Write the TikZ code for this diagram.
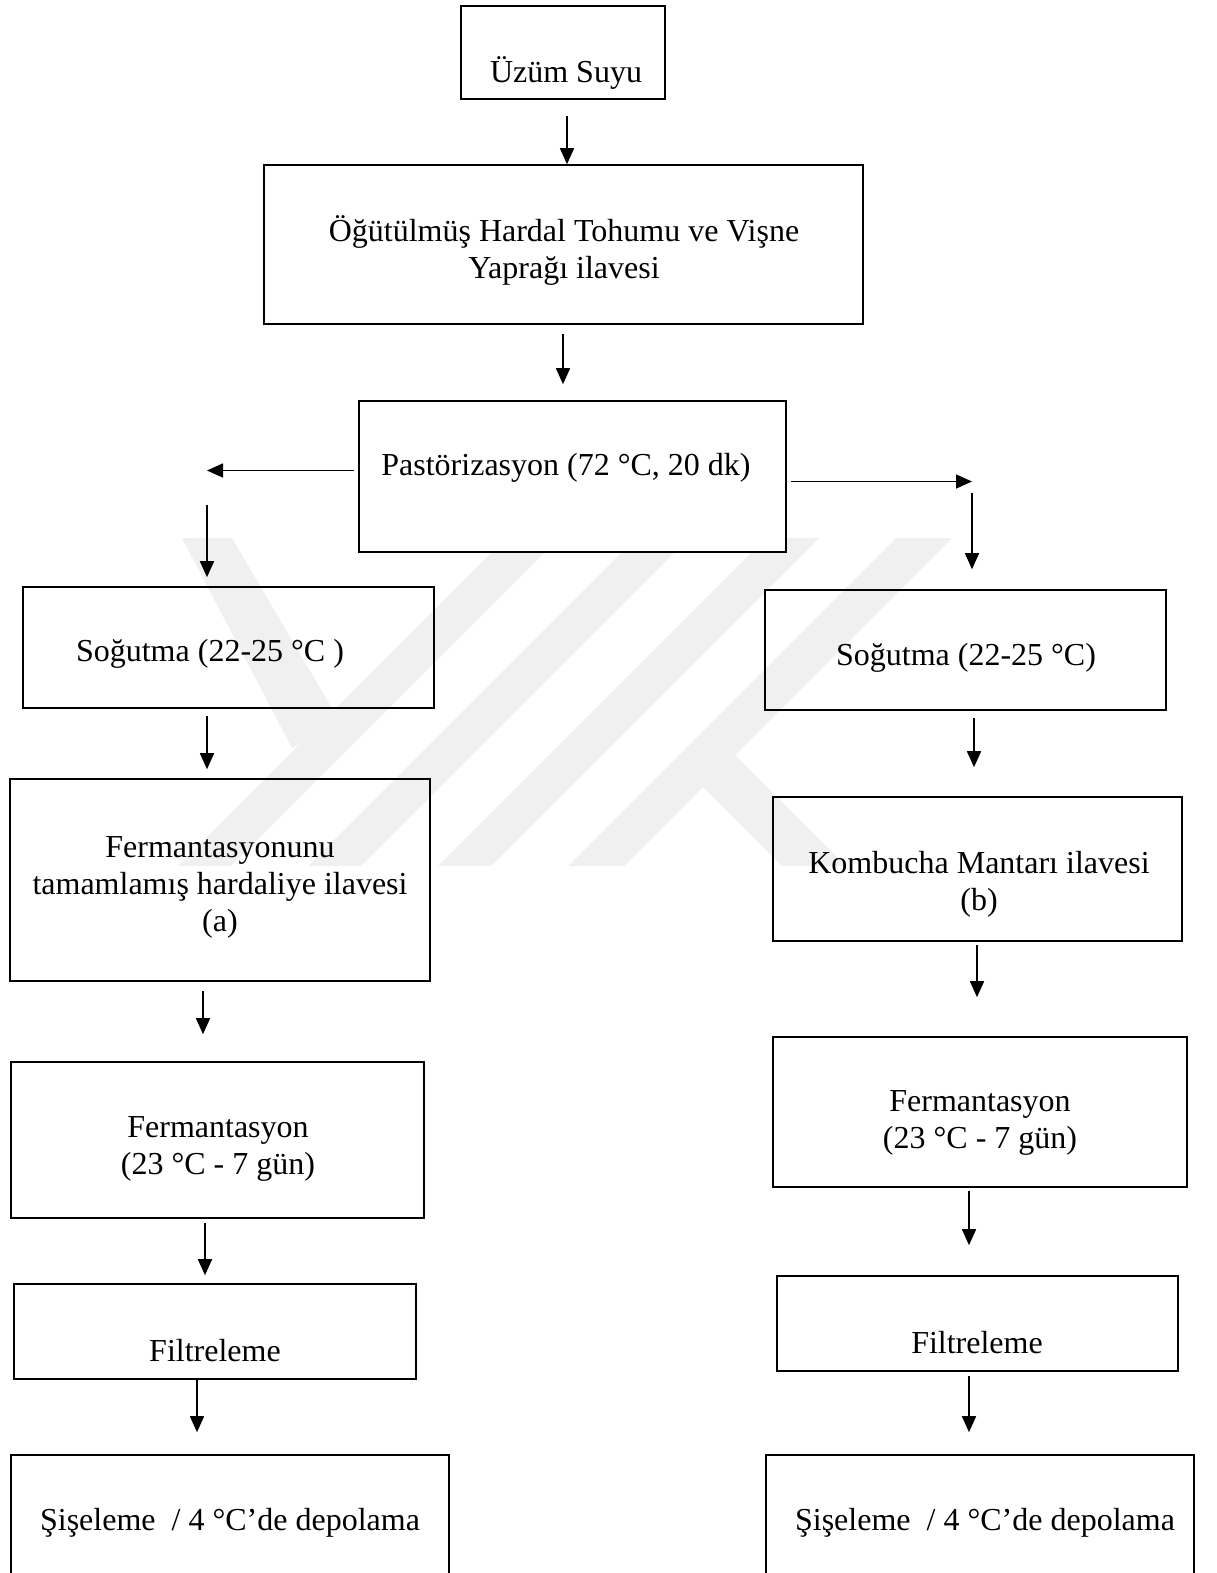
\documentclass[tikz,border=0pt]{standalone}
\usepackage{fontspec}
\setmainfont{Liberation Serif}
\usetikzlibrary{arrows.meta}
\tikzset{
  box/.style={draw, line width=1.6pt, inner sep=0pt},
  lbl/.style={align=center, inner sep=0pt, yshift=-5pt, font=\fontsize{32}{37}\selectfont},
  arr/.style={line width=1.6pt, -{Triangle[width=14pt,length=16pt]}},
  wm/.style={fill=black!6}
}
\begin{document}
\begin{tikzpicture}[x=1pt, y=-1pt, line join=miter]
  \clip (0,0) rectangle (1216,1573);
  \begin{scope}
    \clip (0,538) rectangle (1216,865);
    \fill[wm] (182,538) -- (232,538) -- (340,722) -- (292,748) -- cycle;
    \foreach \c/\d in {1044/1097, 1174/1227, 1304/1357, 1434/1490}
      \fill[wm] ({\c-538},538) -- ({\d-538},538) -- ({\d-880},880) -- ({\c-880},880) -- cycle;
    \fill[wm] (722,742) -- (860,880) -- (796,880) -- (690,774) -- cycle;
  \end{scope}

  \node[box, minimum width=204pt, minimum height=93pt] (uzum) at (563,52.5) {};
  \node[box, minimum width=599pt, minimum height=159pt] (ogut) at (563.5,244.5) {};
  \node[box, fill=white, minimum width=427pt, minimum height=151pt] (past) at (572.5,476.5) {};
  \node[box, minimum width=411pt, minimum height=121pt] (sogL) at (228.5,647.5) {};
  \node[box, minimum width=401pt, minimum height=120pt] (sogR) at (965.5,650) {};
  \node[box, minimum width=420pt, minimum height=202pt] (fermL) at (220,880) {};
  \node[box, minimum width=409pt, minimum height=144pt] (komb) at (977.5,869) {};
  \node[box, minimum width=413pt, minimum height=156pt] (fermLb) at (217.5,1140) {};
  \node[box, minimum width=414pt, minimum height=150pt] (fermR) at (980,1112) {};
  \node[box, minimum width=402pt, minimum height=95pt] (filtL) at (215,1331.5) {};
  \node[box, minimum width=401pt, minimum height=95pt] (filtR) at (977.5,1323.5) {};
  \node[box, minimum width=438pt, minimum height=140pt] (sisL) at (230,1525) {};
  \node[box, minimum width=428pt, minimum height=140pt] (sisR) at (980,1525) {};

  \node[lbl] (tUzum) at (566,68) {Üzüm Suyu};
  \node[lbl] (tOgut) at (564,245) {Öğütülmüş Hardal Tohumu ve Vişne\\Yaprağı ilavesi};
  \node[lbl] (tPast) at (566,463) {Pastörizasyon (72 °C, 20 dk)};
  \node[lbl] (tSogL) at (210,649) {Soğutma (22-25 °C )};
  \node[lbl] (tSogR) at (966,653) {Soğutma (22-25 °C)};
  \node[lbl] (tFermL) at (220,882) {Fermantasyonunu\\tamamlamış hardaliye ilavesi\\(a)};
  \node[lbl] (tKomb) at (979,879) {Kombucha Mantarı ilavesi\\(b)};
  \node[lbl] (tFermLb) at (218,1144) {Fermantasyon\\(23 °C - 7 gün)};
  \node[lbl] (tFermR) at (980,1118) {Fermantasyon\\(23 °C - 7 gün)};
  \node[lbl] (tFiltL) at (215,1346) {Filtreleme};
  \node[lbl] (tFiltR) at (977,1338) {Filtreleme};
  \node[lbl] (tSisL) at (230,1518) {Şişeleme~ / 4 °C’de depolama};
  \node[lbl] (tSisR) at (985,1518) {Şişeleme~ / 4 °C’de depolama};

  \coordinate (lt) at (207,470.5);
  \coordinate (rt) at (972,481.5);

  \draw[arr, shorten <=16pt] ([xshift=4pt]uzum.south) -- ([xshift=3.5pt]ogut.north);
  \draw[arr, shorten <=9pt, shorten >=16pt] ([xshift=-0.5pt]ogut.south) -- ([xshift=-9.5pt]past.north);
  \draw[arr, shorten <=4pt] ([yshift=6pt]past.west) -- (lt);
  \draw[arr, shorten <=4pt] ([yshift=-5pt]past.east) -- (rt);
  \draw[arr, shorten <=34pt, shorten >=9pt] (lt) -- (lt |- sogL.north);
  \draw[arr, shorten <=11pt, shorten >=20pt] (rt) -- (rt |- sogR.north);
  \draw[arr, shorten <=7pt, shorten >=9pt] ([xshift=-21.5pt]sogL.south) -- ([xshift=-13pt]fermL.north);
  \draw[arr, shorten <=7pt, shorten >=29pt] ([xshift=8.5pt]sogR.south) -- ([xshift=-3.5pt]komb.north);
  \draw[arr, shorten <=9pt, shorten >=27pt] ([xshift=-17pt]fermL.south) -- ([xshift=-14.5pt]fermLb.north);
  \draw[arr, shorten <=3pt, shorten >=39pt] ([xshift=-0.5pt]komb.south) -- ([xshift=-3pt]fermR.north);
  \draw[arr, shorten <=4pt, shorten >=8pt] ([xshift=-12.5pt]fermLb.south) -- ([xshift=-10pt]filtL.north);
  \draw[arr, shorten <=3pt, shorten >=30pt] ([xshift=-11pt]fermR.south) -- ([xshift=-8.5pt]filtR.north);
  \draw[arr, shorten >=22pt] ([xshift=-18pt]filtL.south) -- ([xshift=-33pt]sisL.north);
  \draw[arr, shorten <=4pt, shorten >=22pt] ([xshift=-8.5pt]filtR.south) -- ([xshift=-11pt]sisR.north);
\end{tikzpicture}
\end{document}
